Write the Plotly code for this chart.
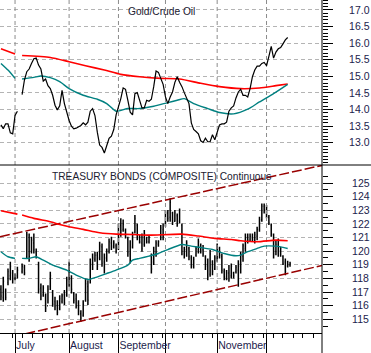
import plotly.graph_objects as go
from plotly.subplots import make_subplots

# ---------------- data ----------------
month_labels = ["July", "August", "September", "", "November", ""]
month_start_day = [6, 29, 50, 70, 92, 113]
week_tick_day = [5.0, 9.3, 13.5, 17.8, 22.0, 26.3, 30.6, 34.8, 39.1, 43.3, 47.6, 51.9,
                 56.1, 60.4, 64.6, 68.9, 73.2, 77.4, 81.7, 85.9, 90.2, 94.5, 98.7, 103.0,
                 107.2, 111.5, 115.8, 120.0, 124.3, 128.5, 132.8]

gc_days = list(range(123))
gc_ratio = [13.54, 13.42, 13.57, 13.57, 13.30, 13.27, 13.82, 13.95, None, 14.45,
            14.89, 15.14, 15.22, 15.39, 15.53, 15.55, 15.34, 15.22, 14.86, 14.92,
            14.72, 14.63, 14.43, 14.13, 13.99, 14.11, 14.58, 14.18, 13.90, 13.67,
            13.50, 13.42, 13.44, 13.47, 13.52, 13.60, 13.54, 13.62, 13.95, 14.03,
            13.82, 13.32, 12.93, 12.86, 12.69, 12.91, 13.13, 13.20, 13.40, 13.84,
            14.08, 14.33, 14.65, 14.61, 14.28, 13.92, 13.84, 14.48, 14.51, 14.25,
            14.05, 14.05, 14.28, 14.25, 14.31, 14.69, 15.16, 15.12, 14.96, 14.76,
            14.38, 14.18, 14.38, 14.53, 14.82, 14.99, 14.82, 14.69, 14.51, 14.33,
            14.18, 13.60, 13.40, 13.34, 13.27, 13.06, 13.01, 13.14, 13.03, 13.03,
            13.24, 13.09, 13.34, 13.54, 13.57, 13.57, 13.62, 13.95, 14.05, 14.11,
            14.35, 14.53, 14.61, 14.43, 14.43, 14.38, 14.63, 14.99, 15.19, 15.31,
            15.31, 15.39, 15.42, 15.32, 15.60, 15.90, 15.55, 15.73, 15.83, 15.87,
            15.98, 16.10, 16.17]

gc_long_ma_days = [0, 6, 8, 9, 21, 29, 36, 44, 51, 59, 68, 76, 85, 93, 102, 110, 117, 122]
gc_long_ma = [15.83, 15.67, None, 15.63, 15.57, 15.44, 15.32, 15.19, 15.06, 14.99,
              14.94, 14.92, 14.79, 14.69, 14.63, 14.65, 14.72, 14.77]

gc_short_ma_days = [0, 3, 6, 8, 9, 14, 17, 21, 25, 29, 35, 41, 45, 49, 54, 59, 65, 71,
                    75, 78, 82, 88, 93, 99, 105, 110, 116, 122]
gc_short_ma = [15.39, 15.19, 14.94, None, 14.92, 14.97, 15.01, 14.96, 14.84, 14.63,
               14.43, 14.31, 14.18, 13.95, 14.03, 14.03, 14.10, 14.21, 14.28, 14.33,
               14.18, 14.03, 13.91, 13.87, 14.01, 14.23, 14.48, 14.76]

tb_days = list(range(124))
tb_open = [117.2, 116.6, 117.0, 117.7, 118.2, 118.4, 118.0, 118.2, None, 118.5,
           118.8, 119.6, 121.0, 120.0, 120.6, 119.9, 119.0, 117.3, 116.8, 116.7,
           116.0, 117.4, 117.0, 116.3, 116.0, 115.8, 116.3, 116.8, 116.8, 117.8,
           118.0, 116.9, 116.5, 116.2, 115.4, 115.3, 116.4, 117.4, 117.9, 119.0,
           119.4, 119.7, 119.5, 120.3, 119.2, 119.5, 120.0, 120.6, 120.4, 120.4,
           120.2, 121.9, 121.6, 121.5, 120.9, 119.8, 120.3, 121.4, 121.9, 121.0,
           120.6, 120.5, 120.9, 120.7, 119.6, 119.2, 119.8, 120.5, 121.0, 121.6,
           121.9, 122.8, 122.5, 122.8, 122.2, 122.6, 122.2, 121.9, 119.8, 120.1,
           120.2, 119.5, 119.0, 119.7, 120.1, 120.4, 120.1, 119.6, 119.0, 118.3,
           119.2, 118.7, 119.5, 120.2, 119.6, 118.5, 118.0, 118.4, 118.2, 118.4,
           118.5, 118.6, 118.9, 119.6, 120.2, 121.0, 120.8, 121.0, 120.8, 121.1,
           121.6, 122.3, 123.3, 123.0, 122.5, 121.9, 121.2, 120.0, 120.5, 120.0,
           119.6, 119.2, 118.9, 119.0]
tb_high = [117.50, 118.12, 117.26, 118.73, 119.22, 118.61, 118.36, 118.85, None, 119.10,
           118.98, 121.43, 121.30, 121.06, 121.30, 120.20, 119.22, 117.63, 117.50, 116.89,
           117.50, 118.49, 117.14, 116.65, 116.40, 116.77, 116.89, 117.14, 118.12, 119.22,
           118.24, 117.01, 116.89, 116.40, 115.67, 116.40, 118.00, 117.87, 119.47, 119.83,
           119.96, 119.96, 120.69, 120.57, 119.83, 120.20, 120.94, 121.06, 120.81, 120.57,
           122.04, 122.41, 122.33, 121.67, 121.06, 120.81, 121.43, 122.65, 122.04, 121.18,
           121.30, 121.55, 121.06, 121.18, 119.83, 120.32, 120.81, 120.81, 121.92, 122.04,
           123.02, 123.02, 123.88, 122.90, 123.02, 122.77, 123.14, 122.04, 120.32, 120.81,
           120.32, 119.71, 119.59, 120.32, 120.94, 120.57, 120.45, 119.71, 119.47, 120.08,
           119.34, 119.71, 120.57, 120.32, 119.83, 118.73, 118.61, 118.98, 119.10, 118.49,
           118.98, 119.34, 119.96, 120.57, 121.30, 121.30, 121.30, 121.30, 121.43, 121.79,
           122.53, 123.51, 123.51, 123.39, 122.65, 122.04, 121.30, 120.81, 120.94, 120.32,
           119.71, 119.47, 119.29, 119.22]
tb_low = [116.40, 116.28, 116.40, 117.50, 117.87, 117.63, 117.87, 118.00, None, 118.36,
          118.24, 119.47, 119.22, 119.83, 119.83, 119.47, 116.89, 116.40, 116.65, 115.54,
          116.16, 117.14, 115.91, 115.67, 115.30, 115.67, 116.16, 116.04, 116.65, 117.38,
          116.89, 116.16, 115.79, 115.30, 114.81, 115.18, 116.28, 116.04, 117.63, 118.61,
          119.22, 118.61, 119.34, 118.85, 118.36, 119.22, 119.83, 120.08, 120.20, 119.83,
          120.08, 121.06, 121.43, 120.94, 119.59, 119.10, 120.20, 121.30, 120.81, 120.57,
          119.96, 120.32, 120.57, 120.57, 118.36, 118.98, 119.59, 120.32, 120.81, 120.81,
          121.79, 122.16, 122.16, 121.92, 122.16, 121.79, 122.04, 119.71, 119.47, 119.59,
          119.34, 118.73, 118.73, 119.59, 119.83, 119.83, 119.59, 118.61, 117.87, 118.12,
          118.24, 118.61, 119.22, 119.47, 118.36, 117.87, 117.87, 117.75, 118.00, 118.00,
          118.36, 117.38, 118.36, 119.22, 119.96, 120.57, 120.69, 120.69, 120.57, 120.81,
          121.43, 122.16, 122.77, 122.41, 121.92, 121.06, 119.47, 119.71, 119.59, 119.59,
          118.98, 118.24, 118.80, 118.85]
tb_close = [116.7, 117.8, 116.6, 118.5, 118.9, 118.0, 118.2, 118.6, None, 118.9,
            118.4, 121.2, 119.6, 120.8, 120.1, 119.6, 117.2, 116.7, 117.3, 115.8,
            117.2, 118.2, 116.1, 116.0, 115.5, 116.5, 116.7, 116.2, 117.9, 118.8,
            117.2, 116.4, 116.0, 115.6, 115.1, 116.1, 117.6, 116.4, 119.1, 119.5,
            119.7, 118.9, 120.4, 119.1, 119.5, 120.0, 120.7, 120.3, 120.6, 120.0,
            121.8, 121.5, 122.0, 121.1, 119.9, 119.4, 121.2, 122.4, 121.0, 120.7,
            120.2, 121.3, 120.7, 121.0, 118.7, 120.0, 120.6, 120.7, 121.7, 121.1,
            122.8, 122.4, 123.6, 122.1, 122.8, 122.0, 123.0, 120.0, 120.1, 120.6,
            119.6, 118.9, 119.4, 120.2, 120.7, 120.0, 119.8, 118.9, 118.1, 119.8,
            118.5, 119.5, 120.3, 119.7, 118.6, 118.1, 118.4, 118.0, 118.9, 118.2,
            118.8, 119.1, 119.7, 120.4, 121.0, 120.8, 121.1, 120.9, 121.2, 121.6,
            122.3, 123.3, 123.0, 123.2, 122.1, 121.3, 119.8, 120.5, 120.0, 120.2,
            119.1, 118.5, 119.0, 119.1]

tb_long_ma_days = [0, 7, 8, 9, 14, 21, 25, 29, 35, 42, 49, 56, 63, 77, 84, 91, 98, 102, 109, 117, 122]
tb_long_ma = [122.97, 122.72, None, 122.65, 122.41, 122.16, 121.96, 121.79, 121.60, 121.35,
              121.25, 121.23, 121.18, 121.25, 121.11, 120.94, 120.86, 120.77, 120.69, 120.81, 120.77]

tb_short_ma_days = [0, 3, 6, 8, 9, 12, 15, 18, 22, 28, 32, 37, 39, 45, 49, 54, 56, 59, 63,
                    67, 71, 77, 81, 85, 90, 95, 100, 102, 105, 109, 112, 117, 119, 122]
tb_short_ma = [119.96, 119.59, 119.47, None, 119.47, 119.47, 119.59, 119.34, 118.98, 118.61,
               118.24, 117.92, 118.00, 118.36, 118.61, 118.98, 119.34, 119.47, 119.64,
               119.83, 120.12, 120.49, 120.37, 120.27, 120.12, 119.83, 119.66, 119.71,
               119.96, 120.20, 120.37, 120.37, 120.32, 120.20]

channel_days = [-0.4, 136.6]
channel_upper = [121.06, 126.30]
channel_lower = [113.50, 118.95]

# axis ranges
gc_range = [12.33, 17.30]
tb_range = [113.99, 126.33]

# ---------------- styles ----------------
RED = "#ff0000"
TEAL = "#008080"
CHAN = "#990000"
GRID = "#b4b4b4"
VGRID = "#8c8c8c"
LABEL = "#1c1c4c"
FONT = "Liberation Sans, Arial, sans-serif"

fig = make_subplots(rows=2, cols=1, shared_xaxes=True, vertical_spacing=0,
                    row_heights=[165, 168])


def month_grid(rng):
    xs, ys = [], []
    for d in month_start_day:
        xs += [d, d, None]
        ys += [rng[0], rng[1], None]
    return go.Scatter(x=xs, y=ys, mode="lines", hoverinfo="skip",
                      line=dict(color=VGRID, width=1, dash="4px,3px"))


# top panel
fig.add_trace(month_grid(gc_range), row=1, col=1)
fig.add_trace(go.Scatter(x=gc_long_ma_days, y=gc_long_ma, mode="lines",
                         line=dict(color=RED, width=1.6, shape="spline", smoothing=0.6),
                         connectgaps=False, hoverinfo="skip"), row=1, col=1)
fig.add_trace(go.Scatter(x=gc_short_ma_days, y=gc_short_ma, mode="lines",
                         line=dict(color=TEAL, width=1.4, shape="spline", smoothing=0.6),
                         connectgaps=False, hoverinfo="skip"), row=1, col=1)
fig.add_trace(go.Scatter(x=gc_days, y=gc_ratio, mode="lines",
                         line=dict(color="black", width=1.2),
                         connectgaps=False), row=1, col=1)

# bottom panel
fig.add_trace(month_grid(tb_range), row=2, col=1)
fig.add_trace(go.Scatter(x=channel_days, y=channel_upper, mode="lines",
                         line=dict(color=CHAN, width=1.5, dash="10px,3px")), row=2, col=1)
fig.add_trace(go.Scatter(x=channel_days, y=channel_lower, mode="lines",
                         line=dict(color=CHAN, width=1.5, dash="10px,3px")), row=2, col=1)
fig.add_trace(go.Scatter(x=tb_long_ma_days, y=tb_long_ma, mode="lines",
                         line=dict(color=RED, width=1.6, shape="spline", smoothing=0.6),
                         connectgaps=False), row=2, col=1)
fig.add_trace(go.Scatter(x=tb_short_ma_days, y=tb_short_ma, mode="lines",
                         line=dict(color=TEAL, width=1.4, shape="spline", smoothing=0.6),
                         connectgaps=False), row=2, col=1)

ok = [i for i, v in enumerate(tb_high) if v is not None]
fig.add_trace(go.Ohlc(x=[tb_days[i] for i in ok],
                      open=[tb_open[i] for i in ok], high=[tb_high[i] for i in ok],
                      low=[tb_low[i] for i in ok], close=[tb_close[i] for i in ok],
                      increasing=dict(line=dict(color="black", width=1.5)),
                      decreasing=dict(line=dict(color="black", width=1.5)),
                      tickwidth=0.35), row=2, col=1)

fig.update_xaxes(range=[-0.4, 136.6], tickmode="array", tickvals=month_start_day,
                 showgrid=False, zeroline=False, rangeslider=dict(visible=False))
fig.update_xaxes(row=1, col=1, showticklabels=False, ticks="", showline=False)
fig.update_xaxes(row=2, col=1, ticktext=month_labels, showticklabels=True,
                 ticks="outside", ticklen=20, tickcolor="black", tickwidth=1,
                 showline=True, linecolor="black", linewidth=1, tickangle=0,
                 ticklabelposition="outside right", ticklabelstandoff=2,
                 tickfont=dict(family=FONT, size=10.5, color=LABEL),
                 minor=dict(tickmode="array", tickvals=week_tick_day, ticks="outside",
                            ticklen=4, tickcolor="black", showgrid=False))

fig.update_yaxes(row=1, col=1, side="right", range=gc_range,
                 tickmode="array", tickvals=[13.0, 13.5, 14.0, 14.5, 15.0, 15.5, 16.0, 16.5, 17.0],
                 tickformat=".1f", ticks="outside", ticklen=10, tickcolor="black",
                 showgrid=True, gridcolor=GRID, griddash="4px,3px", zeroline=False,
                 showline=False, ticklabelstandoff=14,
                 tickfont=dict(family=FONT, size=10.5, color=LABEL),
                 minor=dict(ticks="outside", ticklen=5, tickcolor="black",
                            tick0=12.0, dtick=0.1, showgrid=False))
fig.update_yaxes(row=2, col=1, side="right", range=tb_range,
                 tickmode="array", tickvals=list(range(115, 126)),
                 ticks="outside", ticklen=10, tickcolor="black",
                 showgrid=True, gridcolor=GRID, griddash="4px,3px", zeroline=False,
                 showline=False, ticklabelstandoff=17,
                 tickfont=dict(family=FONT, size=10.5, color=LABEL),
                 minor=dict(ticks="outside", ticklen=5, tickcolor="black",
                            tick0=114.5, dtick=1.0, showgrid=False))

sep = 1 - 165 / 333
shapes = [
    dict(type="line", xref="paper", yref="paper", x0=1, x1=1, y0=-20 / 333, y1=1,
         layer="above", line=dict(color="black", width=1)),
    dict(type="line", xref="paper", yref="paper", x0=0, x1=371 / 322, y0=sep, y1=sep,
         layer="above", line=dict(color="black", width=1)),
]

fig.update_layout(
    width=371, height=353, margin=dict(l=0, r=49, t=0, b=20),
    paper_bgcolor="white", plot_bgcolor="white", showlegend=False,
    font=dict(family=FONT, size=10.5, color=LABEL),
    shapes=shapes,
    annotations=[
        dict(text="Gold/Crude Oil", xref="paper", yref="paper", x=0.5, y=1 - 11 / 333,
             xanchor="center", yanchor="middle", showarrow=False,
             font=dict(family=FONT, size=10.2, color="#202030")),
        dict(text="TREASURY BONDS (COMPOSITE) Continuous", xref="paper", yref="paper",
             x=0.5, y=1 - 176 / 333, xanchor="center", yanchor="middle", showarrow=False,
             font=dict(family=FONT, size=10.2, color="#202030")),
    ],
)

fig.write_html("out.html")
